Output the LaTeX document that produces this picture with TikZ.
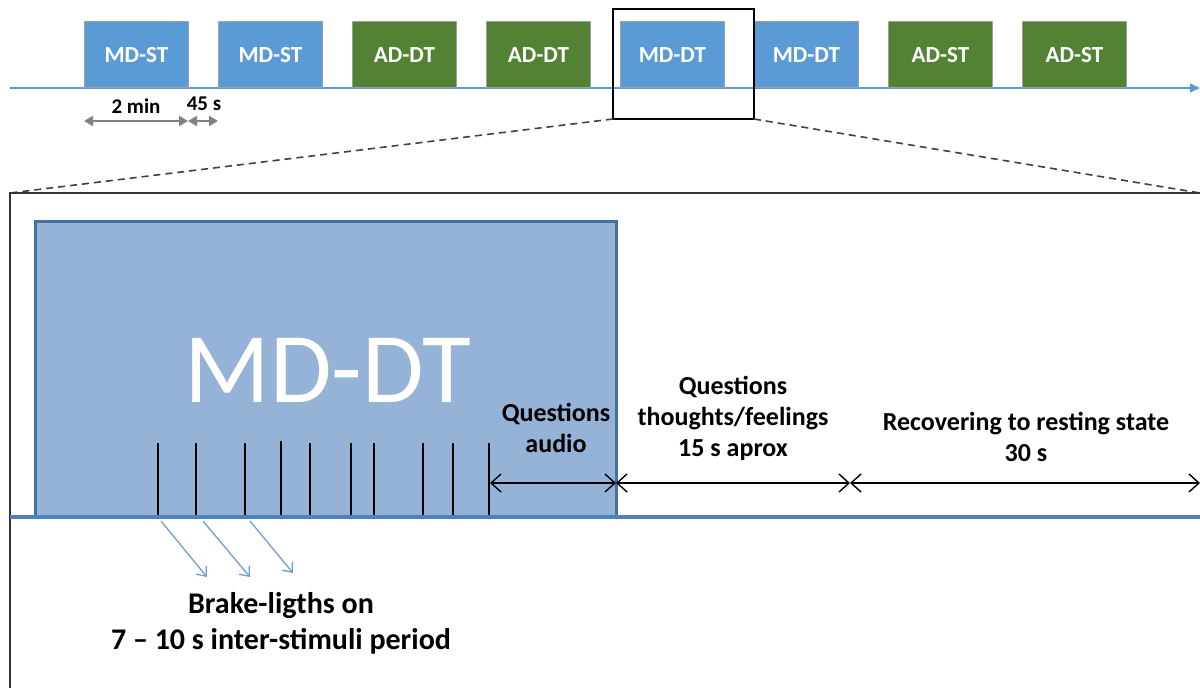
\documentclass[tikz,border=0pt]{standalone}
\usepackage{fontspec}
\setmainfont{Carlito}
\usepackage{xcolor}
\usepackage{tikz}
\usetikzlibrary{arrows.meta}
\usetikzlibrary{calc}

\definecolor{mdblue}{HTML}{5B9BD5}
\definecolor{adgreen}{HTML}{548235}
\definecolor{zoomfill}{HTML}{95B3D7}
\definecolor{zoomedge}{HTML}{41719C}
\definecolor{axisblue}{HTML}{4F81BD}
\definecolor{brakeblue}{HTML}{6F9ED4}

\tikzstyle{block} = [draw=gray!75, line width=0.8pt, minimum width=104pt, minimum height=66pt, inner sep=0pt, anchor=south west, text=white, font=\fontsize{23}{27}\selectfont\bfseries]
\tikzstyle{grayarrow} = [line width=2.5pt, gray, {Triangle[length=9pt,width=10pt]}-{Triangle[length=9pt,width=10pt]}]
\tikzstyle{phasearrow} = [line width=1.4pt, {Straight Barb[length=10pt,width=18pt]}-{Straight Barb[length=10pt,width=18pt]}]
\tikzstyle{brakearrow} = [brakeblue, line width=1.3pt, -{Straight Barb[length=8pt,width=13pt]}]
\tikzstyle{phaselabel} = [align=center, font=\fontsize{26}{31}\selectfont\bfseries]

\begin{document}
\begin{tikzpicture}[x=1pt, y=-1pt]
    \useasboundingbox (0,0) rectangle (1200,688);

    % top time line
    \coordinate (tstart) at (10,88);
    \coordinate (tend) at (1200,88);
    \draw[mdblue, line width=1.5pt, -{Triangle[length=10pt,width=9pt]}] (tstart) -- (tend);

    \foreach \i/\name/\col in {0/MD-ST/mdblue, 1/MD-ST/mdblue, 2/AD-DT/adgreen, 3/AD-DT/adgreen,
                               4/MD-DT/mdblue, 5/MD-DT/mdblue, 6/AD-ST/adgreen, 7/AD-ST/adgreen}
        \node[block, fill=\col] (blk\i) at ({84+134*\i},88) {\name};

    % block lengths
    \coordinate (d0) at (84,121);
    \coordinate (d1) at (188,121);
    \coordinate (d2) at (218,121);
    \draw[grayarrow] (d0) -- node[above=3pt, black, font=\fontsize{21}{24}\selectfont\bfseries] (twomin) {2 min} (d1);
    \draw[grayarrow] (d1) -- (d2);
    \node[black, font=\fontsize{21}{24}\selectfont\bfseries] (gap) at (204,104) {45 s};

    % zoom
    \draw[line width=1.3pt] (613,9) rectangle (754,119);
    \coordinate (zl) at (613,119);
    \coordinate (zr) at (754,119);
    \coordinate (fl) at (10,193);
    \coordinate (fr) at (1200,193);
    \draw[line width=1.6pt, black!75, dash pattern=on 7pt off 5pt] (zl) -- (fl);
    \draw[line width=1.6pt, black!75, dash pattern=on 7pt off 5pt] (zr) -- (fr);
    \draw[line width=1.6pt, black!80] (10,700) -- (fl) -- (fr);

    % MD-DT detail
    \draw[fill=zoomfill, draw=zoomedge, line width=3pt] (35,221) rectangle (616,517);
    \node[text=white, font=\fontsize{100}{110}\selectfont] (big) at (328,370) {MD-DT};

    \foreach \x in {158,196,245,310,351,374,423,453,489}
        \draw[line width=2.5pt] (\x,443) -- (\x,517);
    \draw[line width=2.5pt] (281,441) -- (281,517);

    \draw[axisblue, line width=4pt] (10,517) -- (1200,517);

    % phases
    \coordinate (p0) at (490,483);
    \coordinate (p1) at (616,483);
    \coordinate (p2) at (850,483);
    \coordinate (p3) at (1200,483);
    \draw[phasearrow] (p0) -- (p1);
    \draw[phasearrow] (p1) -- (p2);
    \draw[phasearrow] (p2) -- (p3);
    \node[phaselabel] (audio) at (556,428) {Questions\\audio};
    \node[phaselabel] (feel) at (733,418) {Questions\\thoughts/feelings\\15 s aprox};
    \node[phaselabel] (rest) at (1026,437) {Recovering to resting state\\30 s};

    % brake lights
    \node[align=center, font=\fontsize{30}{36}\selectfont\bfseries] (brake) at (281,623) {Brake-ligths on\\7 -- 10 s inter-stimuli period};
    \coordinate (b1) at (161,521);
    \coordinate (b2) at (203,521);
    \coordinate (b3) at (250,521);
    \coordinate (e1) at (207,577);
    \coordinate (e2) at (250,577);
    \coordinate (e3) at (293,573);
    \draw[brakearrow] (b1) -- (e1);
    \draw[brakearrow] (b2) -- (e2);
    \draw[brakearrow] (b3) -- (e3);

\end{tikzpicture}
\end{document}
